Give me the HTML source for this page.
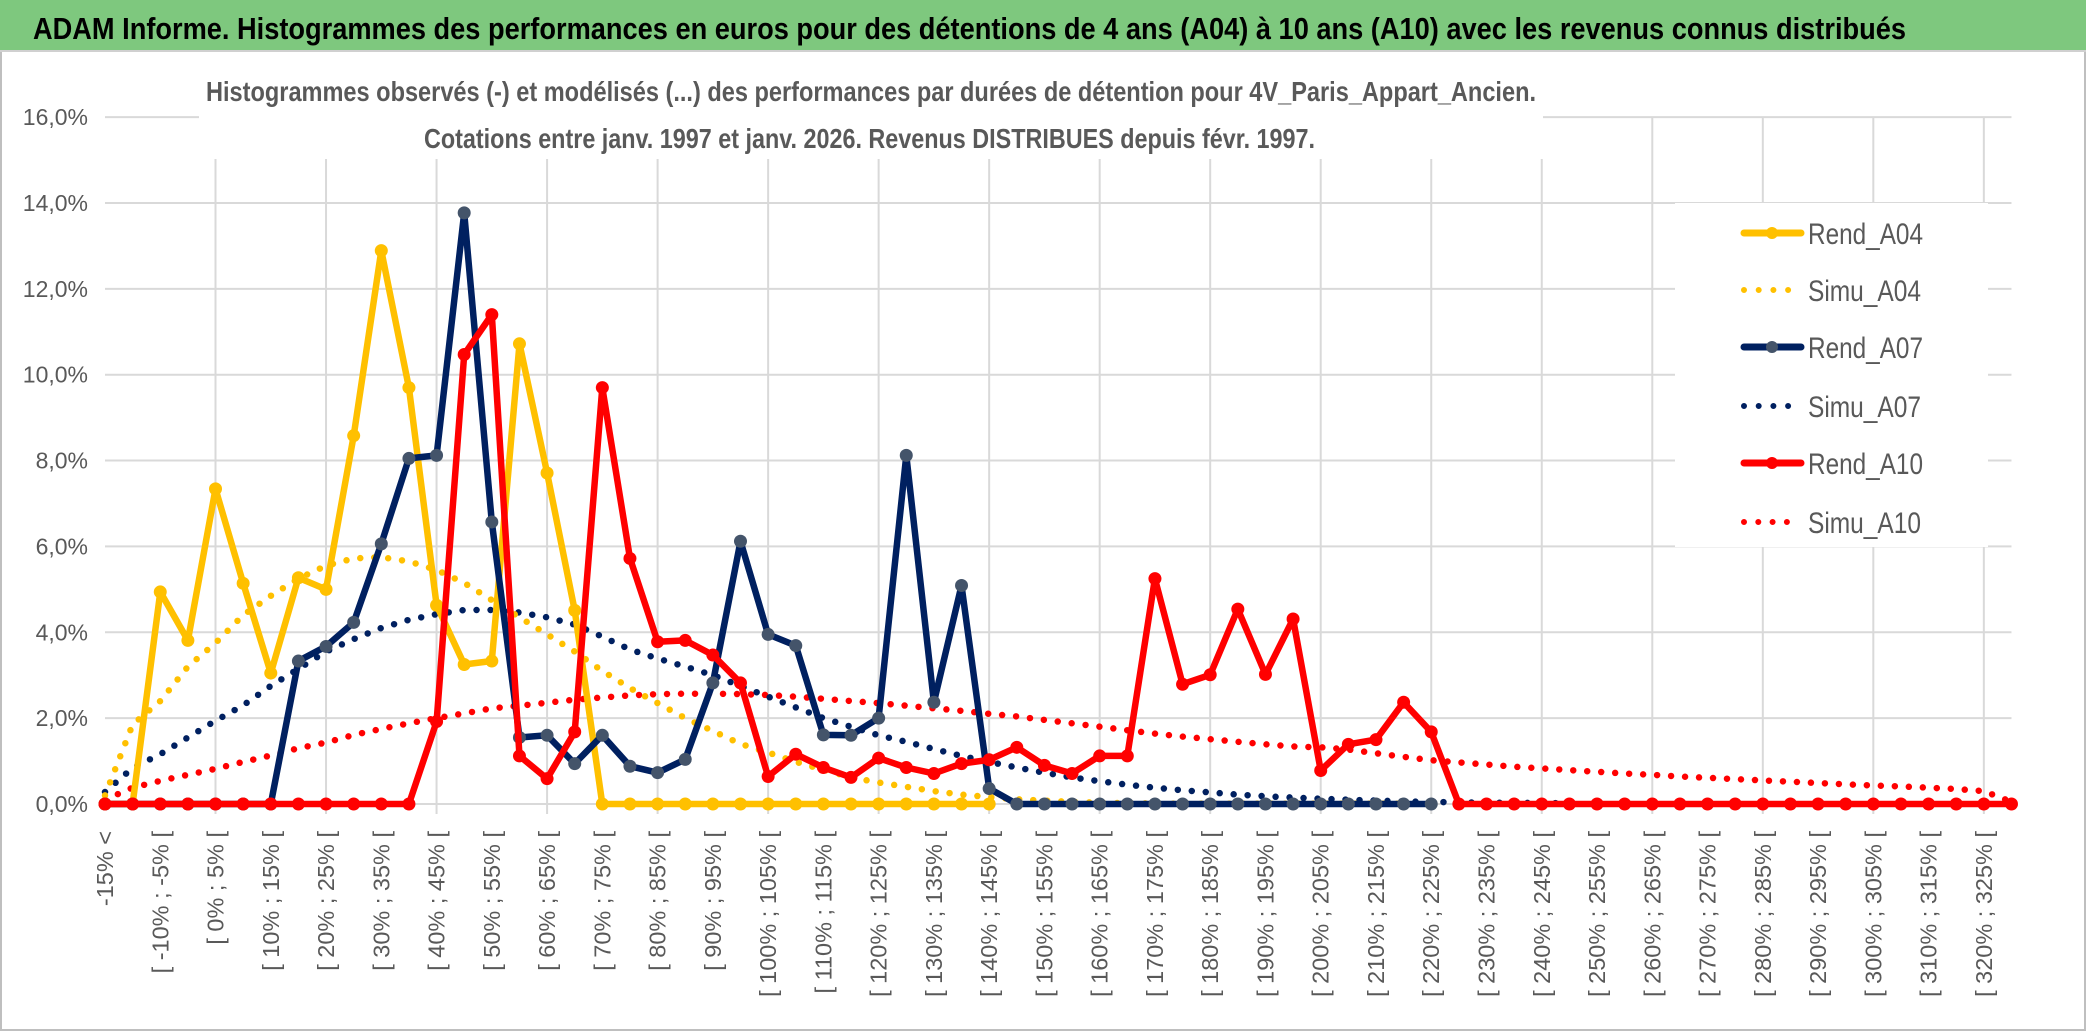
<!DOCTYPE html>
<html><head><meta charset="utf-8"><style>
html,body{margin:0;padding:0;background:#fff;}
svg{display:block;}
</style></head><body>
<svg id="chart" xmlns="http://www.w3.org/2000/svg" width="2086" height="1031" viewBox="0 0 2086 1031">
<rect x="0" y="0" width="2086" height="1031" fill="#fff"/>
<rect x="1" y="1" width="2084" height="1029" fill="none" stroke="#bfbfbf" stroke-width="2"/>
<g>
<rect x="0" y="0" width="2086" height="50" fill="#7ec87e"/>
<line x1="0" y1="51" x2="2086" y2="51" stroke="#d0d0d0" stroke-width="2"/>
<text x="33" y="39" font-family="'Liberation Sans Narrow','Liberation Sans',sans-serif" font-size="31" font-weight="bold" fill="#000" textLength="1873" lengthAdjust="spacingAndGlyphs">ADAM Informe. Histogrammes des performances en euros pour des détentions de 4 ans (A04) à 10 ans (A10) avec les revenus connus distribués</text>
</g>
<g id="grid"></g>
<rect x="199" y="56" width="1344" height="103" fill="#fff"/>
<text x="206" y="101" font-family="'Liberation Sans Narrow','Liberation Sans',sans-serif" font-size="28" font-weight="bold" fill="#595959" textLength="1330" lengthAdjust="spacingAndGlyphs">Histogrammes observés (-) et modélisés (...) des performances par durées de détention pour 4V_Paris_Appart_Ancien.</text>
<text x="424" y="148" font-family="'Liberation Sans Narrow','Liberation Sans',sans-serif" font-size="28" font-weight="bold" fill="#595959" textLength="891" lengthAdjust="spacingAndGlyphs">Cotations entre janv. 1997 et janv. 2026. Revenus DISTRIBUES depuis févr. 1997.</text>
<g id="yaxis"></g>
<g id="xaxis"></g>
<g id="series"></g>
<g>
<rect x="1675" y="203" width="313" height="344" fill="#fff"/>
<g>
<line x1="1744" y1="233" x2="1801" y2="233" stroke="#FFC000" stroke-width="7" stroke-linecap="round"/><circle cx="1772" cy="233" r="6" fill="#FFC000"/>
<text x="1808" y="244" font-family="'Liberation Sans Narrow','Liberation Sans',sans-serif" font-size="30" fill="#595959" textLength="115" lengthAdjust="spacingAndGlyphs">Rend_A04</text></g>
<g>
<line x1="1744" y1="290" x2="1801" y2="290" stroke="#FFC000" stroke-width="6" stroke-linecap="round" stroke-dasharray="0 14.7"/>
<text x="1808" y="301" font-family="'Liberation Sans Narrow','Liberation Sans',sans-serif" font-size="30" fill="#595959" textLength="113" lengthAdjust="spacingAndGlyphs">Simu_A04</text></g>
<g>
<line x1="1744" y1="347" x2="1801" y2="347" stroke="#002060" stroke-width="7" stroke-linecap="round"/><circle cx="1772" cy="347" r="6" fill="#44546A"/>
<text x="1808" y="358" font-family="'Liberation Sans Narrow','Liberation Sans',sans-serif" font-size="30" fill="#595959" textLength="115" lengthAdjust="spacingAndGlyphs">Rend_A07</text></g>
<g>
<line x1="1744" y1="406" x2="1801" y2="406" stroke="#002060" stroke-width="6" stroke-linecap="round" stroke-dasharray="0 14.7"/>
<text x="1808" y="417" font-family="'Liberation Sans Narrow','Liberation Sans',sans-serif" font-size="30" fill="#595959" textLength="113" lengthAdjust="spacingAndGlyphs">Simu_A07</text></g>
<g>
<line x1="1744" y1="463" x2="1801" y2="463" stroke="#FF0000" stroke-width="7" stroke-linecap="round"/><circle cx="1772" cy="463" r="6" fill="#FF0000"/>
<text x="1808" y="474" font-family="'Liberation Sans Narrow','Liberation Sans',sans-serif" font-size="30" fill="#595959" textLength="115" lengthAdjust="spacingAndGlyphs">Rend_A10</text></g>
<g>
<line x1="1744" y1="522" x2="1801" y2="522" stroke="#FF0000" stroke-width="6" stroke-linecap="round" stroke-dasharray="0 14.3"/>
<text x="1808" y="533" font-family="'Liberation Sans Narrow','Liberation Sans',sans-serif" font-size="30" fill="#595959" textLength="113" lengthAdjust="spacingAndGlyphs">Simu_A10</text></g>
</g>
</svg>
<script>
const categoryCount = 70;
const yTicks = [0, 2, 4, 6, 8, 10, 12, 14, 16];
const yTickLabels = ["0,0%", "2,0%", "4,0%", "6,0%", "8,0%", "10,0%", "12,0%", "14,0%", "16,0%"];
const rendA04 = [0,0,4.94,3.81,7.34,5.14,3.05,5.27,5.0,8.58,12.89,9.7,4.63,3.25,3.33,10.72,7.71,4.51,0,0,0,0,0,0,0,0,0,0,0,0,0,0,0];
const rendA07 = [0,0,0,0,0,0,0,3.33,3.67,4.23,6.06,8.05,8.12,13.77,6.57,1.55,1.6,0.94,1.6,0.88,0.73,1.04,2.82,6.12,3.95,3.69,1.61,1.6,2.0,8.12,2.37,5.09,0.36,0,0,0,0,0,0,0,0,0,0,0,0,0,0,0,0];
const rendA10 = [0,0,0,0,0,0,0,0,0,0,0,0,1.92,10.47,11.4,1.12,0.59,1.68,9.7,5.72,3.78,3.81,3.47,2.82,0.64,1.16,0.85,0.62,1.07,0.85,0.71,0.94,1.03,1.32,0.9,0.71,1.12,1.12,5.25,2.79,3.01,4.54,3.02,4.31,0.78,1.39,1.5,2.37,1.68,0,0,0,0,0,0,0,0,0,0,0,0,0,0,0,0,0,0,0,0,0];
const simuA04 = [0.2,1.85,2.4,3.2,3.75,4.4,4.85,5.25,5.55,5.72,5.75,5.65,5.45,5.15,4.75,4.35,3.95,3.55,3.1,2.7,2.35,2.0,1.7,1.4,1.2,0.98,0.8,0.62,0.5,0.4,0.3,0.22,0.16,0.11,0.08,0.05,0.03,0.02,0.01,0.01,0.01,0.01,0.01,0.01,0.01,0.01,0.01,0.01];
const simuA07 = [0.28,0.84,1.16,1.55,1.94,2.3,2.75,3.15,3.55,3.84,4.1,4.29,4.42,4.52,4.52,4.46,4.35,4.18,3.9,3.6,3.39,3.2,3.0,2.75,2.5,2.25,2.0,1.8,1.6,1.45,1.28,1.12,0.98,0.85,0.73,0.62,0.53,0.45,0.38,0.32,0.27,0.22,0.18,0.15,0.12,0.1,0.08,0.06,0.05,0.04,0.03,0.03,0.02,0.02];
const simuA10 = [0.1,0.38,0.54,0.68,0.82,0.98,1.13,1.3,1.43,1.61,1.75,1.88,2.0,2.11,2.23,2.29,2.36,2.43,2.48,2.53,2.56,2.57,2.57,2.56,2.54,2.5,2.45,2.4,2.35,2.29,2.23,2.17,2.1,2.04,1.96,1.88,1.8,1.72,1.64,1.57,1.51,1.45,1.39,1.34,1.32,1.27,1.18,1.1,1.02,0.97,0.92,0.87,0.83,0.79,0.75,0.71,0.68,0.64,0.61,0.58,0.55,0.52,0.49,0.46,0.43,0.41,0.38,0.35,0.3,0.05];

const NS = "http://www.w3.org/2000/svg";
const X0 = 105, DX = 27.63, Y0 = 804, PER = 42.93;
function xScale(k){ return X0 + DX * k; }
function yScale(v){ return Y0 - PER * v; }
function catLabel(k){
  if (k === 0) return "-15% <";
  const lo = -15 + 5 * (k - 1);
  return "[ " + lo + "% ; " + (lo + 5) + "% [";
}
function mk(tag, attrs, parent){
  const e = document.createElementNS(NS, tag);
  for (const a in attrs) e.setAttribute(a, attrs[a]);
  parent.appendChild(e);
  return e;
}
const grid = document.getElementById("grid");
const xEnd = xScale(categoryCount - 1);
yTicks.forEach(function(t){
  const l = mk("line", {x1: X0, x2: xEnd, y1: yScale(t), y2: yScale(t), stroke: "#d9d9d9", "stroke-width": 2}, grid);
  
  
});
for (let k = 4; k < categoryCount; k += 4){
  const l = mk("line", {x1: xScale(k), x2: xScale(k), y1: yScale(16), y2: Y0 + 10, stroke: "#d9d9d9", "stroke-width": 2}, grid);
  
  
}
const yaxis = document.getElementById("yaxis");
yTicks.forEach(function(t, i){
  const tx = mk("text", {x: 88, y: yScale(t) + 8, "text-anchor": "end", "font-family": "'Liberation Sans Narrow','Liberation Sans',sans-serif", "font-size": 23, fill: "#595959"}, yaxis);
  tx.textContent = yTickLabels[i];
  
  
});
const xaxis = document.getElementById("xaxis");
for (let k = 0; k < categoryCount; k += 2){
  const x = xScale(k) + 8, y = 831;
  const tx = mk("text", {x: x, y: y, "text-anchor": "end", transform: "rotate(-90 " + x + " " + y + ")", "font-family": "'Liberation Sans',sans-serif", "font-size": 23.5, fill: "#595959"}, xaxis);
  tx.textContent = catLabel(k);
  
  
}
const series = document.getElementById("series");
function pts(arr){ return arr.map(function(v, k){ return xScale(k).toFixed(1) + "," + yScale(v).toFixed(1); }).join(" "); }
function dotted(arr, color, name){
  const p = mk("polyline", {points: pts(arr), fill: "none", stroke: color, "stroke-width": 6.5, "stroke-linecap": "round", "stroke-dasharray": "0 14"}, series);
  
  
}
function solid(arr, color, marker, name){
  const g = mk("g", {}, series);
  
  
  mk("polyline", {points: pts(arr), fill: "none", stroke: color, "stroke-width": 6.5, "stroke-linejoin": "round"}, g);
  arr.forEach(function(v, k){
    const c = mk("circle", {cx: xScale(k), cy: yScale(v), r: 6.5, fill: marker}, g);
    
    
  });
}
dotted(simuA10, "#FF0000", "simu-a10-line");
dotted(simuA07, "#002060", "simu-a07-line");
dotted(simuA04, "#FFC000", "simu-a04-line");
solid(rendA04, "#FFC000", "#FFC000", "rend-a04-line");
solid(rendA07, "#002060", "#44546A", "rend-a07-line");
solid(rendA10, "#FF0000", "#FF0000", "rend-a10-line");
</script>
</body></html>
